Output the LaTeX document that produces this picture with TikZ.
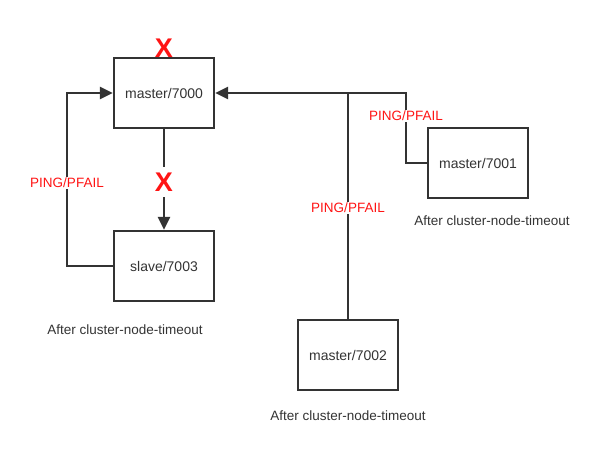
\documentclass[tikz,border=0pt]{standalone}
\usepackage{fontspec}
\setmainfont{Liberation Sans}
\usetikzlibrary{arrows.meta, positioning}
\definecolor{linegray}{RGB}{51,51,51}
\definecolor{failred}{RGB}{255,20,20}
\tikzset{
  nodebox/.style={draw=linegray, line width=2.3pt, minimum width=100pt,
    minimum height=70pt, font=\fontsize{14}{16}\selectfont, text=linegray},
  link/.style={draw=linegray, line width=2.3pt},
  tip/.style={-{Triangle[length=13pt,width=12pt]}},
  failtxt/.style={text=failred, fill=white, inner sep=1.5pt,
    font=\fontsize{13.5}{15}\selectfont},
  cross/.style={text=failred, font=\fontsize{27}{29}\selectfont\bfseries,
    inner sep=1pt},
  note/.style={text=linegray, font=\fontsize{13.5}{15}\selectfont}
}
\begin{document}
\begin{tikzpicture}[x=1pt, y=-1pt]
  \useasboundingbox (0,0) rectangle (616,456);

  \node[nodebox] (m7000) at (164,93) {master/7000};
  \node[nodebox] (s7003) at (164,266) {slave/7003};
  \node[nodebox] (m7001) at (478,163) {master/7001};
  \node[nodebox] (m7002) at (348,355) {master/7002};

  % slave -> master
  \draw[link, tip] (s7003.west) -- (67,266) |- (m7000.west);
  \node[failtxt] (ping3) at (67,183) {PING/PFAIL};

  % replication broken
  \draw[link, tip] (m7000.south) -- (s7003.north);
  \node[cross, fill=white, inner ysep=6pt] (xrep) at (164,182) {X};
  \node[cross] (xdown) at (164,48) {X};

  % other masters -> master/7000
  \coordinate (join) at (348,93);
  \draw[link, tip] (m7001.west) -| (406,93) -- (m7000.east);
  \draw[link] (m7002.north) -- (join);
  \node[failtxt] (ping1) at (406,116) {PING/PFAIL};
  \node[failtxt] (ping2) at (348,208) {PING/PFAIL};

  \node[note] (t7003) at (125,330) {After cluster-node-timeout};
  \node[note] (t7001) at (492,221) {After cluster-node-timeout};
  \node[note] (t7002) at (348,416) {After cluster-node-timeout};
\end{tikzpicture}
\end{document}
